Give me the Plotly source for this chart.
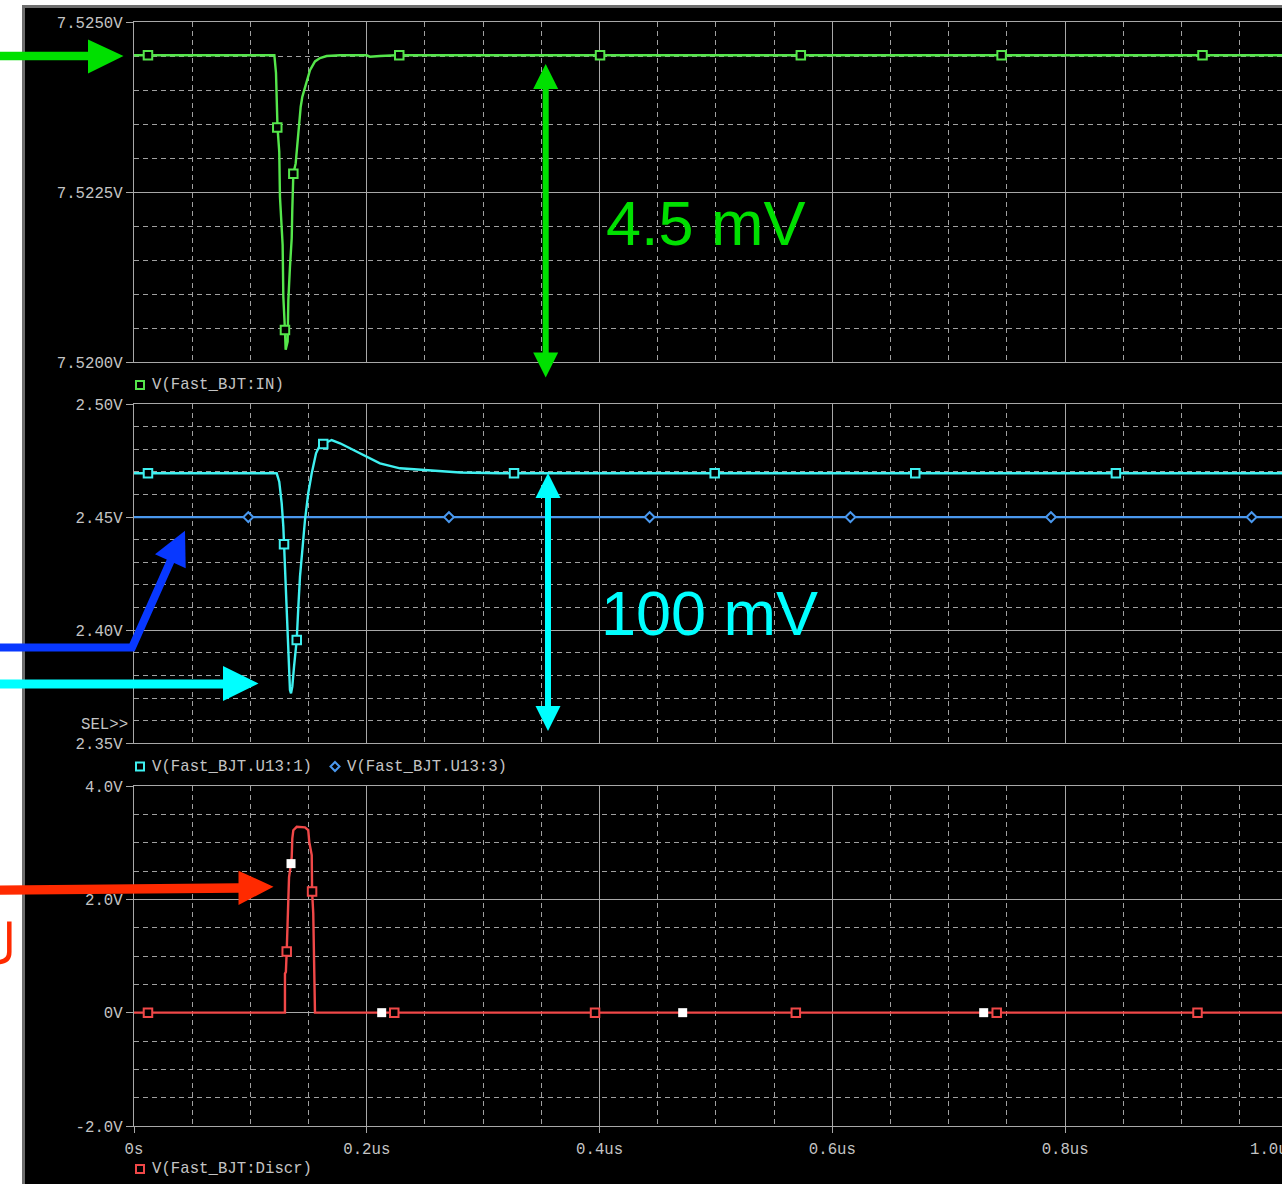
import plotly.graph_objects as go

# ---------------- figure geometry ----------------
W, H = 1282, 1184
ML, MR, MT, MB = 134, 0, 22, 58
PW = W - ML - MR
PH = H - MT - MB
X_END = 0.9863  # visible end of the time axis (us)

# ---------------- data (time in us, voltage in V) ----------------
t_in = [0.0, 0.1206, 0.1220, 0.1231, 0.1233, 0.1248, 0.1254, 0.1277, 0.1283, 0.1297,
        0.1303, 0.1320, 0.1326, 0.1340, 0.1355, 0.1360, 0.1369, 0.1389, 0.1406, 0.1418,
        0.1432, 0.1446, 0.1469, 0.1484, 0.1512, 0.1555, 0.1598, 0.1655, 0.1770, 0.1999,
        0.2027, 0.2113, 0.2257, 1.0]
v_in = [7.52451, 7.52451, 7.52425, 7.52371, 7.52345, 7.52309, 7.52243, 7.52172, 7.52096, 7.52047,
        7.52018, 7.52030, 7.52091, 7.52140, 7.52182, 7.52224, 7.52277, 7.52292, 7.52326, 7.52351,
        7.52375, 7.52390, 7.52405, 7.52415, 7.52429, 7.52442, 7.52447, 7.52450, 7.52451, 7.52451,
        7.52449, 7.52450, 7.52451, 7.52451]

t_u13_1 = [0.0, 0.1226, 0.1248, 0.1269, 0.1283, 0.1289, 0.1303, 0.1312, 0.1320, 0.1332,
           0.1340, 0.1349, 0.1360, 0.1375, 0.1398, 0.1412, 0.1426, 0.1449, 0.1469, 0.1497,
           0.1527, 0.1564, 0.1598, 0.1626, 0.1698, 0.1770, 0.1884, 0.1999, 0.2113, 0.2285,
           0.2543, 0.2801, 0.3144, 1.0]
v_u13_1 = [2.46936, 2.46936, 2.46565, 2.45610, 2.44576, 2.43797, 2.42515, 2.41039, 2.39713, 2.38386,
           2.37356, 2.37210, 2.37502, 2.38386, 2.39567, 2.41039, 2.42365, 2.43691, 2.44872, 2.46052,
           2.46936, 2.47820, 2.48187, 2.48232, 2.48408, 2.48263, 2.47966, 2.47670, 2.47378, 2.47157,
           2.47080, 2.46972, 2.46936, 2.46936]

t_u13_3 = [0.0, 1.0]
v_u13_3 = [2.45, 2.45]

t_discr = [0.0, 0.1297, 0.1297, 0.1305, 0.1312, 0.1320, 0.1332, 0.1349, 0.1355, 0.1360,
           0.1369, 0.1398, 0.1469, 0.1497, 0.1506, 0.1527, 0.1530, 0.1540, 0.1546, 0.1555, 1.0]
v_discr = [0.0, 0.0, 0.69, 0.72, 1.08, 1.81, 2.39, 2.63, 2.75, 3.07,
           3.22, 3.28, 3.27, 3.22, 3.01, 2.78, 2.14, 1.75, 0.72, 0.0, 0.0]

# trace markers (as placed by the simulator)
mk_in_t = [0.0120, 0.1231, 0.1297, 0.1369, 0.2279, 0.4004, 0.5729, 0.7454, 0.9180]
mk_in_v = [7.52451, 7.52345, 7.52047, 7.52277, 7.52451, 7.52451, 7.52451, 7.52451, 7.52451]
mk_u1_t = [0.0120, 0.1289, 0.1398, 0.1626, 0.3265, 0.4989, 0.6712, 0.8436]
mk_u1_v = [2.46936, 2.43797, 2.39567, 2.48232, 2.46936, 2.46936, 2.46936, 2.46936]
mk_u3_t = [0.0982, 0.2706, 0.4430, 0.6155, 0.7878, 0.9602]
mk_u3_v = [2.45, 2.45, 2.45, 2.45, 2.45, 2.45]
mk_dis_t = [0.0120, 0.1312, 0.1530, 0.2236, 0.3961, 0.5686, 0.7412, 0.9137]
mk_dis_v = [0.0, 1.08, 2.14, 0.0, 0.0, 0.0, 0.0, 0.0]
mk_white_t = [0.1349, 0.2128, 0.4714, 0.7300]
mk_white_v = [2.63, 0.0, 0.0, 0.0]

x_ticks = [0.0, 0.2, 0.4, 0.6, 0.8]
x_ticktext = ['0s', '0.2us', '0.4us', '0.6us', '0.8us']
y1_ticks = [7.5200, 7.5225, 7.5250]
y1_text = ['7.5200V', '7.5225V', '7.5250V']
y2_ticks = [2.35, 2.40, 2.45, 2.50]
y2_text = ['2.35V', '2.40V', '2.45V', '2.50V']
y3_ticks = [-2.0, 0.0, 2.0, 4.0]
y3_text = ['-2.0V', '0V', '2.0V', '4.0V']

# ---------------- styles ----------------
C_GREEN = '#55e64b'
C_CYAN = '#3ff0f0'
C_BLUE = '#4a98ee'
C_RED = '#f04848'
GRID = '#a8a8a8'
GRID_MINOR = '#a0a0a0'
TXT = '#c4c4c4'
MONO = dict(family='Liberation Mono, DejaVu Sans Mono, monospace', size=15.7, color=TXT)
LW = 2.4

A_GREEN = '#00e000'
A_CYAN = '#00ffff'
A_BLUE = '#0838ff'
A_RED = '#ff2a00'


def px(x):
    return (x - ML) / PW


def py(y):
    return (H - MB - y) / PH


def path(pts, close=True):
    s = 'M ' + ' L '.join(f'{px(x):.5f},{py(y):.5f}' for x, y in pts)
    return s + (' Z' if close else '')


fig = go.Figure()

# panel 1
fig.add_trace(go.Scatter(x=t_in, y=v_in, mode='lines', line=dict(color=C_GREEN, width=LW),
                         xaxis='x', yaxis='y', hoverinfo='skip'))
fig.add_trace(go.Scatter(x=mk_in_t, y=mk_in_v, mode='markers',
                         marker=dict(symbol='square', size=8.5, color='black', line=dict(color=C_GREEN, width=2)),
                         xaxis='x', yaxis='y', hoverinfo='skip'))
# panel 2
fig.add_trace(go.Scatter(x=t_u13_3, y=v_u13_3, mode='lines', line=dict(color=C_BLUE, width=LW),
                         xaxis='x2', yaxis='y2', hoverinfo='skip'))
fig.add_trace(go.Scatter(x=mk_u3_t, y=mk_u3_v, mode='markers',
                         marker=dict(symbol='diamond', size=7.5, color='black', line=dict(color=C_BLUE, width=2)),
                         xaxis='x2', yaxis='y2', hoverinfo='skip'))
fig.add_trace(go.Scatter(x=t_u13_1, y=v_u13_1, mode='lines', line=dict(color=C_CYAN, width=LW),
                         xaxis='x2', yaxis='y2', hoverinfo='skip'))
fig.add_trace(go.Scatter(x=mk_u1_t, y=mk_u1_v, mode='markers',
                         marker=dict(symbol='square', size=8.5, color='black', line=dict(color=C_CYAN, width=2)),
                         xaxis='x2', yaxis='y2', hoverinfo='skip'))
# panel 3
fig.add_trace(go.Scatter(x=t_discr, y=v_discr, mode='lines', line=dict(color=C_RED, width=LW),
                         xaxis='x3', yaxis='y3', hoverinfo='skip'))
fig.add_trace(go.Scatter(x=mk_dis_t, y=mk_dis_v, mode='markers',
                         marker=dict(symbol='square', size=8.5, color='black', line=dict(color=C_RED, width=2)),
                         xaxis='x3', yaxis='y3', hoverinfo='skip'))
fig.add_trace(go.Scatter(x=mk_white_t, y=mk_white_v, mode='markers',
                         marker=dict(symbol='square', size=9, color='white', line=dict(width=0)),
                         xaxis='x3', yaxis='y3', hoverinfo='skip'))


def xaxis(anchor, labels):
    return dict(
        domain=[0, 1], anchor=anchor, range=[0, X_END],
        showline=True, linecolor=GRID, linewidth=1.4, mirror=True,
        tickmode='array', tickvals=x_ticks, ticktext=x_ticktext,
        showticklabels=labels, ticks='outside' if labels else '', ticklen=6,
        tickcolor=GRID, tickwidth=1.4, tickfont=MONO, ticklabelstandoff=2,
        showgrid=True, gridcolor=GRID, gridwidth=1.3,
        minor=dict(tickmode='linear', tick0=0, dtick=0.05, showgrid=True,
                   gridcolor=GRID_MINOR, griddash='5px,4px', gridwidth=1.2),
        zeroline=False, fixedrange=True,
    )


def yaxis(anchor, domain, rng, tv, tt, mdt):
    return dict(
        domain=domain, anchor=anchor, range=rng,
        showline=True, linecolor=GRID, linewidth=1.4, mirror=False,
        tickmode='array', tickvals=tv, ticktext=tt,
        ticks='outside', ticklen=7, tickcolor=GRID, tickwidth=1.4, tickfont=MONO,
        showgrid=True, gridcolor=GRID, gridwidth=1.3,
        minor=dict(tickmode='linear', tick0=rng[0], dtick=mdt, showgrid=True,
                   gridcolor=GRID_MINOR, griddash='5px,4px', gridwidth=1.2),
        zeroline=False, fixedrange=True,
    )


# ---------------- decorations ----------------
shapes = []
# white page margins and grey window frame
shapes.append(dict(type='rect', xref='paper', yref='paper', x0=px(-20), x1=px(22), y0=py(H + 20), y1=py(-20),
                   fillcolor='white', line=dict(width=0), layer='above'))
shapes.append(dict(type='rect', xref='paper', yref='paper', x0=px(-20), x1=px(W + 20), y0=py(5), y1=py(-20),
                   fillcolor='white', line=dict(width=0), layer='above'))
shapes.append(dict(type='line', xref='paper', yref='paper', x0=px(23.5), x1=px(23.5), y0=py(5), y1=py(H + 20),
                   line=dict(color='#6e6e6e', width=3), layer='above'))
shapes.append(dict(type='line', xref='paper', yref='paper', x0=px(22), x1=px(W + 20), y0=py(6.5), y1=py(6.5),
                   line=dict(color='#6e6e6e', width=3), layer='above'))


def filled(pts, color):
    shapes.append(dict(type='path', xref='paper', yref='paper', path=path(pts),
                       fillcolor=color, line=dict(width=0), layer='above'))


# green arrow into top panel
filled([(-5, 51.8), (88, 51.8), (88, 39.5), (123.5, 56), (88, 73.5), (88, 60.2), (-5, 60.2)], A_GREEN)
# cyan arrow
filled([(-5, 679.5), (223, 679.5), (223, 666), (258.5, 683.5), (223, 701), (223, 688.5), (-5, 688.5)], A_CYAN)
# red arrow
filled([(-5, 885.5), (238.5, 883.3), (238.5, 870.7), (273.5, 886.7), (238.5, 905), (238.5, 892.7), (-5, 894.8)], A_RED)
# blue bent arrow
shapes.append(dict(type='path', xref='paper', yref='paper',
                   path=path([(-5, 647.5), (132, 647.5), (171, 560)], close=False),
                   fillcolor='rgba(0,0,0,0)', line=dict(color=A_BLUE, width=8), layer='above'))
filled([(185, 530.7), (155, 554.3), (185.7, 568.3)], A_BLUE)
# red partial glyph on the left edge
shapes.append(dict(type='path', xref='paper', yref='paper',
                   path=(f'M {px(9.3):.5f},{py(921.5):.5f} L {px(9.3):.5f},{py(952):.5f} '
                         f'Q {px(9.3):.5f},{py(962):.5f} {px(-2):.5f},{py(962):.5f}'),
                   fillcolor='rgba(0,0,0,0)', line=dict(color=A_RED, width=4.5), layer='above'))


def double_arrow(xc, ytip_top, ytip_bot, color, head=25, half=12.5, shaft=6):
    filled([(xc, ytip_top), (xc - half, ytip_top + head), (xc + half, ytip_top + head)], color)
    filled([(xc, ytip_bot), (xc - half, ytip_bot - head), (xc + half, ytip_bot - head)], color)
    filled([(xc - shaft / 2, ytip_top + head - 1), (xc + shaft / 2, ytip_top + head - 1),
            (xc + shaft / 2, ytip_bot - head + 1), (xc - shaft / 2, ytip_bot - head + 1)], color)


double_arrow(545.7, 64, 377.5, A_GREEN)
double_arrow(548, 473, 731, A_CYAN)

# legend glyphs
def sq(xc, yc, color):
    shapes.append(dict(type='rect', xref='paper', yref='paper', x0=px(xc - 4), x1=px(xc + 4),
                       y0=py(yc + 4), y1=py(yc - 4), fillcolor='black',
                       line=dict(color=color, width=2), layer='above'))


def dia(xc, yc, color):
    shapes.append(dict(type='path', xref='paper', yref='paper',
                       path=path([(xc, yc - 4.5), (xc + 4.5, yc), (xc, yc + 4.5), (xc - 4.5, yc)]),
                       fillcolor='black', line=dict(color=color, width=2), layer='above'))


sq(140, 385, C_GREEN)
sq(140, 766.5, C_CYAN)
dia(335, 766.5, C_BLUE)
sq(140, 1169, C_RED)

annotations = []


def label(x, y, text, xanchor='left', font=MONO):
    annotations.append(dict(xref='paper', yref='paper', x=px(x), y=py(y), text=text, showarrow=False,
                            xanchor=xanchor, yanchor='middle', font=font, borderpad=0))


label(151, 384.5, 'V(Fast_BJT:IN)')
label(151, 766.5, 'V(Fast_BJT.U13:1)')
label(346, 766.5, 'V(Fast_BJT.U13:3)')
label(151, 1168.5, 'V(Fast_BJT:Discr)')
label(129, 724.5, 'SEL&gt;&gt;', xanchor='right')
# last time label (axis end lies just beyond the visible window, as in the original window)
annotations.append(dict(xref='paper', yref='paper', x=1.0 / X_END, y=py(1150), text='1.0us', showarrow=False,
                        xanchor='right', yanchor='middle', font=MONO, borderpad=0))

BIG = 'Liberation Sans, Arial, Helvetica, sans-serif'
label(706, 223, '4.5 mV', xanchor='center', font=dict(family=BIG, size=63, color=A_GREEN))
label(709, 613, '100 mV', xanchor='center', font=dict(family=BIG, size=63, color=A_CYAN))

D1 = [(H - MB - 362) / PH, 1.0]
D2 = [(H - MB - 743.3) / PH, (H - MB - 404) / PH]
D3 = [0.0, (H - MB - 786) / PH]

fig.update_layout(
    width=W, height=H,
    margin=dict(l=ML, r=MR, t=MT, b=MB, pad=0),
    paper_bgcolor='black', plot_bgcolor='black',
    showlegend=False,
    xaxis=xaxis('y', False),
    xaxis2=xaxis('y2', False),
    xaxis3=xaxis('y3', True),
    yaxis=yaxis('x', D1, [7.5200, 7.5250], y1_ticks, y1_text, 0.0005),
    yaxis2=yaxis('x2', D2, [2.35, 2.50], y2_ticks, y2_text, 0.01),
    yaxis3=yaxis('x3', D3, [-2.0, 4.0], y3_ticks, y3_text, 0.5),
    shapes=shapes,
    annotations=annotations,
    hovermode=False,
)

fig.write_html("out.html", post_script="document.body.style.margin='0';document.body.style.overflow='hidden';",
               config={'displayModeBar': False})
